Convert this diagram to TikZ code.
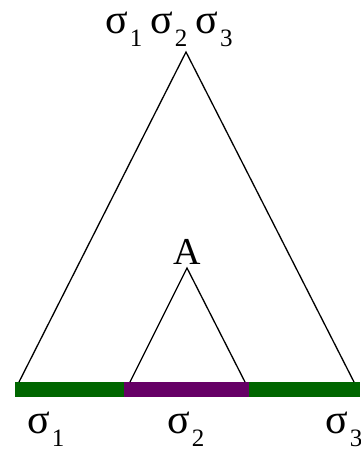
\documentclass[tikz,border=0pt]{standalone}
\usepackage{fontspec}
\setmainfont{Liberation Serif}
\definecolor{bargreen}{RGB}{0,102,0}
\definecolor{barpurple}{RGB}{102,0,102}
\newcommand{\sg}[1]{{\fontsize{42}{42}\selectfont σ}\kern2pt\raisebox{-13pt}{\fontsize{25}{25}\selectfont #1}}
\begin{document}
\begin{tikzpicture}[x=1pt,y=-1pt,
  lbl/.style={font=\fontsize{38}{38}\selectfont, inner sep=0pt, anchor=base},
  slbl/.style={inner sep=0pt, anchor=base west},
  edge/.style={draw=black, line width=1.3pt},
  bar/.style={line width=15pt}]
\useasboundingbox (0,0) rectangle (360,450);
% bar
\coordinate (b0) at (15,389);
\coordinate (b1) at (124,389);
\coordinate (b2) at (249,389);
\coordinate (b3) at (360,389);
\draw[bar, bargreen] (b0) -- (b1);
\draw[bar, barpurple] (b1) -- (b2);
\draw[bar, bargreen] (b2) -- (b3);
% big triangle
\coordinate (apex) at (186,52);
\coordinate (bl) at (19,382);
\coordinate (br) at (354,382);
\draw[edge] (bl) -- (apex) -- (br);
% small triangle
\coordinate (apexA) at (187,268);
\coordinate (sl) at (130,382);
\coordinate (sr) at (245,382);
\draw[edge] (sl) -- (apexA) -- (sr);
% labels
\node[slbl] (top) at (105,33) {\sg{1}\kern8pt\sg{2}\kern8pt\sg{3}};
\node[lbl] (A) at (187,264) {A};
\node[slbl] (s1) at (27,433) {\sg{1}};
\node[slbl] (s2) at (167,433) {\sg{2}};
\node[slbl] (s3) at (325,433) {\sg{3}};
\end{tikzpicture}
\end{document}
